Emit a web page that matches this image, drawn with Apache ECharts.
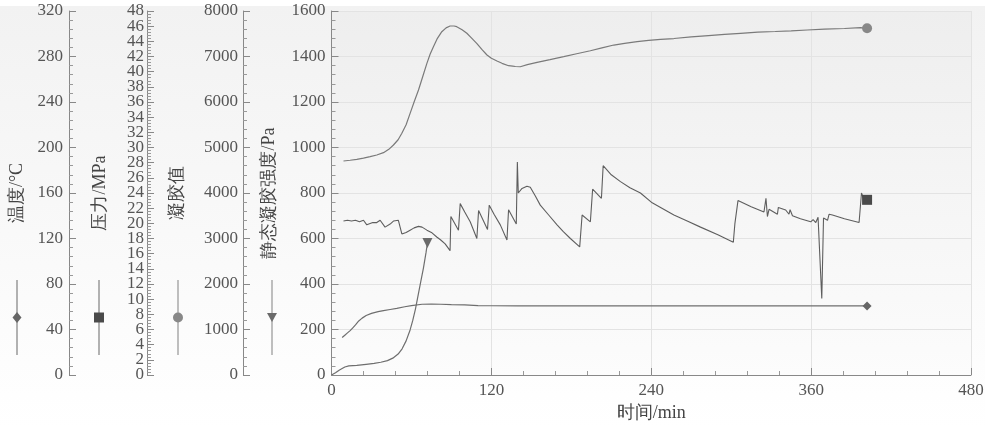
<!DOCTYPE html>
<html>
<head>
<meta charset="utf-8">
<script src="https://cdn.jsdelivr.net/npm/echarts@6/dist/echarts.min.js"></script>
<style>
  html, body { margin: 0; padding: 0; background: #fff; }
  #chart { width: 987px; height: 428px; }
</style>
</head>
<body>
<div id="chart"></div>
<script>
// 时间 (min) , 数值
const tempData = [[8,33],[10,35],[12,37],[14,39],[16,41.5],[18,44],[20,47],[23,50],[26,52.3],[30,54.2],[35,55.7],[39,56.6],[44,57.6],[49,58.6],[55,60],[60,61],[68,62.2],[75,62.4],[82,62.2],[90,61.9],[100,61.6],[110,61],[120,60.9],[140,60.8],[200,60.8],[260,60.7],[320,60.7],[380,60.7],[402,60.7]]

const pressureData = [[9,20.3],[12,20.4],[15,20.3],[18,20.4],[21,20.2],[24,20.4],[26.5,19.8],[28,20.0],[31,20.1],[34,20.1],[36.5,20.4],[38,20.3],[40.2,19.5],[44,19.9],[46.5,20.3],[50.2,20.4],[52.8,18.6],[56,18.8],[59,19.1],[62,19.4],[65.3,19.6],[68,19.5],[71.6,19.1],[75,18.8],[79,18.2],[82,17.8],[85.3,17.3],[89,16.4],[89.6,20.9],[95.3,19.1],[96.6,22.6],[100,21.5],[104.1,20.2],[109.1,18.0],[110.4,21.7],[117.1,19.2],[118.4,22.4],[122,21.2],[126.7,19.8],[131.7,17.8],[132.9,21.8],[138.7,19.9],[139.5,28.1],[140.2,24.0],[143,24.6],[146.7,24.9],[149.2,24.75],[153,23.6],[156.7,22.4],[163,21.1],[169.3,19.8],[174,18.9],[179.3,18.0],[186.3,16.9],[188.1,21.1],[194.3,20.2],[196,24.5],[202.6,23.3],[203.9,27.6],[210,26.4],[216.9,25.5],[224,24.7],[231.9,24.0],[240.7,22.7],[247,22.1],[257,21.1],[267,20.3],[277,19.5],[290,18.5],[301.6,17.5],[302.8,20.0],[304,20.1],[305.1,23.0],[315,22.2],[324.6,21.5],[326.1,23.3],[327.2,20.9],[328.4,21.85],[334.7,21.2],[335.4,22.1],[340.9,21.76],[343.4,21.2],[344.2,21.8],[346,21.0],[352,20.6],[359.7,20.2],[361.5,20.5],[363.5,20.1],[365.2,20.8],[366.7,20.7],[368,10.1],[369.3,20.7],[372.3,20.4],[373.5,21.2],[374.8,21.3],[376,21.1],[385,20.6],[396,20.1],[397.8,24.0],[399.3,23.3],[402,23.1]]

const gelData = [[9,4703],[14,4720],[19,4740],[24,4765],[29,4798],[34,4835],[39,4886],[43,4960],[46.5,5055],[50,5170],[52.8,5312],[56,5500],[59,5751],[62,6000],[65.3,6264],[68.5,6560],[71.6,6850],[74,7050],[76.5,7215],[79.5,7400],[82.8,7545],[86,7630],[89,7670],[92,7670],[94,7655],[98,7590],[101.6,7510],[105,7410],[109,7290],[113,7150],[116.7,7033],[120,6960],[124.2,6900],[128,6850],[132.9,6798],[134,6765],[136,6790],[138,6780],[141.7,6775],[147,6820],[154.3,6872],[164,6930],[174.3,6996],[184,7060],[194.3,7127],[203,7190],[211.9,7252],[220,7290],[229.4,7326],[238,7355],[247,7378],[257,7395],[270,7430],[283,7460],[295,7485],[307,7510],[320,7535],[333,7550],[345,7565],[357,7582],[370,7600],[385,7615],[397,7633],[402,7620]]

const strengthData = [[0,0],[3,10],[6,22],[10,35],[13,40],[19,42.5],[26,47],[32,51],[37,56],[42,63],[46,74],[50,92],[53,115],[56,150],[59,198],[61,240],[63,290],[65,350],[67,410],[69,470],[71,540],[72,580]]

const xTicks = { min: 0, max: 480, interval: 120 }
// 压力轴：0,4,...,48 一组，2,6,...,46 另一组
const pressTicks = { max: 48, step: 2 }
const names = ['温度/°C', '压力/MPa', '凝胶值', '静态凝胶强度/Pa']

const chart = echarts.init(document.getElementById('chart'))

const numFont = 'Liberation Serif'
const labelColor = '#555'
const lineColor = '#888'

const gridTop = 11
const gridBottom = 53
const plotH = 428 - gridTop - gridBottom
const pressStepPx = plotH / (pressTicks.max / pressTicks.step)

// 最后一个点带标记
const withEndSymbol = (arr, symbol, size, color, rotate) => {
  return arr.map((p, i) => {
    if (i !== arr.length - 1) return p
    return {
      value: p,
      symbol: symbol,
      symbolSize: size,
      symbolRotate: rotate || 0,
      itemStyle: { color: color }
    }
  })
}

const yAxisBase = (idx, max, interval, offset, nameGap, margin) => ({
  type: 'value',
  position: 'left',
  offset: offset,
  min: 0,
  max: max,
  interval: interval,
  name: names[idx],
  nameLocation: 'middle',
  nameRotate: 90,
  nameGap: nameGap,
  nameMoveOverlap: false,
  nameTextStyle: { color: '#444', fontSize: 18, fontFamily: numFont },
  axisLine: { show: true, onZero: false, lineStyle: { color: lineColor } },
  axisTick: { show: true, inside: true, length: 7, lineStyle: { color: lineColor } },
  minorTick: { show: true, splitNumber: 5, length: 4, lineStyle: { color: '#999' } },
  axisLabel: {
    color: labelColor, fontSize: 17, fontFamily: numFont, margin: margin,
    showMinLabel: true, showMaxLabel: true,
    formatter: v => String(v)
  },
  splitLine: { show: false }
})

const yTemp = yAxisBase(0, 320, 40, 262.5, 43, 6)
const yPress = yAxisBase(1, pressTicks.max, pressTicks.step * 2, 184.5, 38, 3)
yPress.minorTick.splitNumber = 10
const yGel = yAxisBase(2, 8000, 1000, 88.5, 57, 5)
const yStrength = yAxisBase(3, 1600, 200, 0, 53, 6)
yStrength.splitLine = { show: true, lineStyle: { color: '#e3e3e3' } }

// 压力轴的奇数组标签 (2,6,...,46)，放在错开一格的第二个 grid 上
const yPressOdd = {
  type: 'value',
  gridIndex: 1,
  position: 'left',
  offset: 184.5,
  min: pressTicks.step,
  max: pressTicks.max - pressTicks.step,
  interval: pressTicks.step * 2,
  axisLine: { show: false, onZero: false },
  axisTick: { show: true, inside: true, length: 7, lineStyle: { color: lineColor } },
  minorTick: { show: false },
  axisLabel: {
    color: labelColor, fontSize: 17, fontFamily: numFont, margin: 3,
    showMinLabel: true, showMaxLabel: true,
    formatter: v => String(v)
  },
  splitLine: { show: false }
}

const series = [
  {
    name: names[0], type: 'line', yAxisIndex: 0, symbol: 'none', z: 3,
    lineStyle: { color: '#6e6e6e', width: 1.2 },
    data: withEndSymbol(tempData, 'diamond', 9, '#666')
  },
  {
    name: names[1], type: 'line', yAxisIndex: 1, symbol: 'none', z: 3,
    lineStyle: { color: '#5e5e5e', width: 1.1 },
    data: withEndSymbol(pressureData, 'rect', 10, '#4a4a4a')
  },
  {
    name: names[2], type: 'line', yAxisIndex: 2, symbol: 'none', z: 3,
    lineStyle: { color: '#7a7a7a', width: 1.2 },
    data: withEndSymbol(gelData, 'circle', 10, '#888')
  },
  {
    name: names[3], type: 'line', yAxisIndex: 3, symbol: 'none', z: 3,
    lineStyle: { color: '#6e6e6e', width: 1.2 },
    data: withEndSymbol(strengthData, 'triangle', 10, '#6a6a6a', 180)
  }
]

// 左侧图例：竖线 + 标记
const legendItem = (x, shape, color, lineCol) => {
  let marker
  if (shape === 'diamond') {
    marker = { type: 'polygon', shape: { points: [[x, 312], [x + 4.5, 317.5], [x, 323], [x - 4.5, 317.5]] }, style: { fill: color } }
  } else if (shape === 'rect') {
    marker = { type: 'rect', shape: { x: x - 5, y: 312.5, width: 10, height: 10 }, style: { fill: color } }
  } else if (shape === 'circle') {
    marker = { type: 'circle', shape: { cx: x, cy: 317.5, r: 5 }, style: { fill: color } }
  } else {
    marker = { type: 'polygon', shape: { points: [[x - 5, 313], [x + 5, 313], [x, 322]] }, style: { fill: color } }
  }
  return [
    { type: 'line', shape: { x1: x, y1: 280, x2: x, y2: 355 }, style: { stroke: lineCol, lineWidth: 1.5 }, silent: true },
    Object.assign(marker, { silent: true })
  ]
}

let options = {
  animation: false,
  backgroundColor: '#fff',
  graphic: [
    {
      type: 'rect', z: -10, silent: true,
      shape: { x: 0, y: 6, width: 985, height: 422 },
      style: {
        fill: new echarts.graphic.LinearGradient(0, 0, 0, 1, [
          { offset: 0, color: '#f2f2f2' },
          { offset: 1, color: '#ffffff' }
        ])
      }
    },
    ...legendItem(17, 'diamond', '#666', '#999'),
    ...legendItem(99, 'rect', '#4a4a4a', '#999'),
    ...legendItem(178, 'circle', '#888', '#aaa'),
    ...legendItem(272, 'triangle', '#6a6a6a', '#aaa')
  ],
  grid: [
    {
      left: 331.5,
      right: 16,
      top: gridTop,
      bottom: gridBottom,
      show: true,
      borderWidth: 0,
      outerBoundsMode: 'none',
      backgroundColor: new echarts.graphic.LinearGradient(0, 0, 0, 1, [
        { offset: 0, color: '#eeeeee' },
        { offset: 1, color: '#fcfcfc' }
      ])
    },
    {
      left: 331.5,
      right: 16,
      top: gridTop + pressStepPx,
      bottom: gridBottom + pressStepPx,
      show: false,
      outerBoundsMode: 'none'
    }
  ],
  xAxis: [
    {
      type: 'value',
      min: xTicks.min,
      max: xTicks.max,
      interval: xTicks.interval,
      name: '时间/min',
      nameLocation: 'middle',
      nameGap: 27,
      nameTextStyle: { color: '#444', fontSize: 18, fontFamily: numFont },
      axisLine: { show: true, onZero: false, lineStyle: { color: lineColor } },
      axisTick: { show: true, inside: true, length: 7, lineStyle: { color: lineColor } },
      minorTick: { show: true, splitNumber: 5, length: 4, lineStyle: { color: '#999' } },
      axisLabel: { color: labelColor, fontSize: 17, fontFamily: numFont, margin: 7 },
      splitLine: { show: true, lineStyle: { color: '#e3e3e3' } }
    },
    { type: 'value', gridIndex: 1, min: xTicks.min, max: xTicks.max, show: false }
  ],
  yAxis: [yTemp, yPress, yGel, yStrength, yPressOdd],
  series: series
}

chart.setOption(options)
</script>
</body>
</html>
